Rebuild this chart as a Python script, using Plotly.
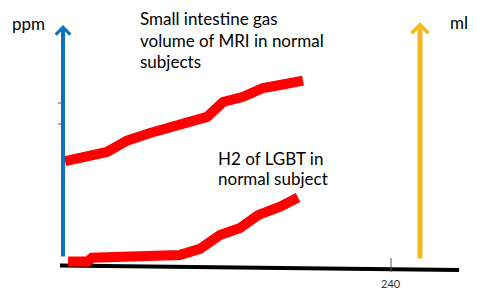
import plotly.graph_objects as go

# time in minutes, level in arbitrary units
mri_time = [1.5, 32.2, 46.8, 63.7, 105.4, 117.1, 131.7, 146.3, 158.8, 175.6]
mri_level = [43.3, 47.1, 51.8, 55.0, 61.7, 67.9, 70.1, 73.75, 75.0, 76.8]

h2_time = [3.7, 18.3, 21.2, 49.0, 73.2, 85.6, 100.2, 114.9, 129.5, 142.7, 158.8, 172.0]
h2_level = [1.5, 1.5, 3.0, 3.75, 4.5, 4.2, 6.7, 12.5, 15.4, 20.8, 24.3, 28.1]

tick_vals = [240]
tick_text = ["240"]

W, H = 480, 299
FONT = "Lato"

fig = go.Figure()
for xs, ys in [(mri_time, mri_level), (h2_time, h2_level)]:
    fig.add_trace(go.Scatter(x=xs, y=ys, mode="lines",
                             line=dict(color="#ff0000", width=10),
                             hoverinfo="skip", showlegend=False))

# baseline (slightly slanted)
fig.add_shape(type="line", x0=-2.2, y0=-0.2, x1=289.8, y1=-2.1,
              line=dict(color="black", width=4), layer="below")
# tick at 240
for v, t in zip(tick_vals, tick_text):
    fig.add_shape(type="line", x0=v, x1=v, y0=2.9, y1=-2.9,
                  line=dict(color="#44546a", width=1))
    fig.add_annotation(x=v, y=-7.6, text=t, showarrow=False,
                       font=dict(family=FONT, size=11, color="#333333"))
# small left ticks
for yv in [67.5, 58.75]:
    fig.add_shape(type="line", x0=-3.7, x1=-0.7, y0=yv, y1=yv,
                  line=dict(color="#555555", width=1))

# axis arrows
fig.add_annotation(x=0, y=100, ax=0, ay=2.9, axref="x", ayref="y",
                   showarrow=True, arrowhead=4, arrowsize=0.7, arrowwidth=4,
                   arrowcolor="#1170bd", text="")
fig.add_annotation(x=261.2, y=101.2, ax=261.2, ay=2.1, axref="x", ayref="y",
                   showarrow=True, arrowhead=4, arrowsize=0.65, arrowwidth=5,
                   arrowcolor="#f5b820", text="")

def label(px, py, text):
    fig.add_annotation(xref="paper", yref="paper", x=px / W, y=1 - py / H,
                       xanchor="left", yanchor="middle", text=text,
                       showarrow=False,
                       font=dict(family=FONT, size=17, color="black"))

label(10, 24, "ppm")
label(448, 23, "ml")
label(138, 18.5, "Small intestine gas")
label(138, 40.5, "volume of MRI in normal")
label(138, 62, "subjects")
label(216, 158, "H2 of LGBT in")
label(216, 178.5, "normal subject")

fig.update_layout(
    width=W, height=H, margin=dict(l=0, r=0, t=0, b=0),
    paper_bgcolor="white", plot_bgcolor="white",
    xaxis=dict(range=[-46.1, 305.1], visible=False),
    yaxis=dict(range=[-14.17, 110.42], visible=False),
)
fig.write_html("out.html")
